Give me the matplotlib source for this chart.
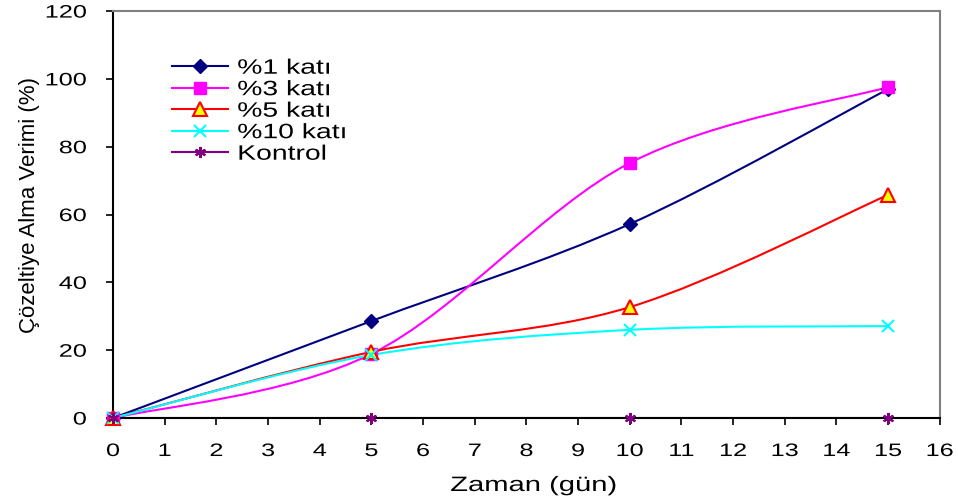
import numpy as np
import matplotlib
matplotlib.use("Agg")
import matplotlib.pyplot as plt
from matplotlib.path import Path
from matplotlib.patches import PathPatch
from matplotlib.lines import Line2D
from matplotlib import patheffects
from matplotlib.transforms import Affine2D

plt.rcParams['font.family'] = ['Liberation Sans', 'DejaVu Sans']

# sampling days and yields (%)
gun = [0, 5, 10, 15]
kat1 = [0, 28.6, 57.2, 97.0]
kat3 = [0, 18.9, 75.2, 97.6]
kat5 = [0, 19.5, 32.7, 65.8]
kat10 = [0, 18.6, 26.0, 27.1]
kontrol = [0, 0, 0, 0]

labels = ['%1 katı', '%3 katı', '%5 katı', '%10 katı', 'Kontrol']


class Widen(patheffects.AbstractPathEffect):
    """Draw text glyphs stretched horizontally about a chosen anchor."""

    def __init__(self, sx, anchor='left'):
        super().__init__()
        self.sx = sx
        self.anchor = anchor

    def draw_path(self, renderer, gc, tpath, affine, rgbFace=None):
        ext = tpath.get_extents()
        if self.anchor == 'center':
            cx = (ext.x0 + ext.x1) / 2
        elif self.anchor == 'right':
            cx = ext.x1
        else:
            cx = 0
        stretch = Affine2D().translate(-cx, 0).scale(self.sx, 1).translate(cx, 0)
        renderer.draw_path(gc, tpath, stretch + affine, rgbFace)


def smooth_path(x, y):
    # smoothed line: cubic bezier segments through the points
    pts = np.column_stack([x, y]).astype(float)
    n = len(pts)
    verts = [pts[0]]
    codes = [Path.MOVETO]
    for i in range(n - 1):
        p_prev = pts[i - 1] if i > 0 else pts[i]
        p_next2 = pts[i + 2] if i + 2 < n else pts[i + 1]
        c1 = pts[i] + (pts[i + 1] - p_prev) / 6.0
        c2 = pts[i + 1] - (p_next2 - pts[i]) / 6.0
        verts += [c1, c2, pts[i + 1]]
        codes += [Path.CURVE4] * 3
    return Path(verts, codes)


fig = plt.figure(figsize=(9.58, 5.04), dpi=100)
ax = fig.add_axes([0.118, 0.1706, 0.863, 0.8074])

series = [
    (kat1, '#000080', dict(marker='D', markersize=7.5, markerfacecolor='#000080', markeredgecolor='#000080')),
    (kat3, '#FF00FF', dict(marker='s', markersize=8, markerfacecolor='#FF00FF', markeredgecolor='#FF00FF')),
    (kat5, '#FF0000', dict(marker='^', markersize=9.5, markerfacecolor='#FFFF00', markeredgecolor='#FF0000', markeredgewidth=1.5)),
    (kat10, '#00FFFF', dict(marker='x', markersize=8, markeredgecolor='#00FFFF', markeredgewidth=1.5)),
    (kontrol, '#800080', dict(marker=(6, 2, 0), markersize=8, markeredgecolor='#800080', markeredgewidth=1.5)),
]

handles = []
for (vals, col, mk), lab in zip(series, labels):
    ax.add_patch(PathPatch(smooth_path(gun, vals), facecolor='none', edgecolor=col,
                           linewidth=1.5, zorder=2))
    ax.plot(gun, vals, linestyle='none', clip_on=False, zorder=3, **mk)
    handles.append(Line2D([], [], color=col, linewidth=1.5, **mk))

ax.set_xlim(0, 16)
ax.set_ylim(0, 120)
ax.set_xticks(range(0, 17))
ax.set_yticks(range(0, 121, 20))
ax.tick_params(direction='out', length=5, width=1.2, labelsize=13, colors='black')
ax.tick_params(axis='x', pad=13)
ax.tick_params(axis='y', pad=14)
for t in ax.get_xticklabels():
    t.set_path_effects([Widen(1.4, 'center')])
for t in ax.get_yticklabels():
    t.set_path_effects([Widen(1.4, 'right')])

for side in ['top', 'right']:
    ax.spines[side].set_color('#808080')
    ax.spines[side].set_linewidth(1.5)
for side in ['left', 'bottom']:
    ax.spines[side].set_color('black')
    ax.spines[side].set_linewidth(1.5)

xl = ax.set_xlabel('Zaman (gün)', fontsize=15)
xl.set_path_effects([Widen(1.4, 'center')])
ax.set_ylabel('Çözeltiye Alma Verimi (%)', fontsize=16)
ax.xaxis.set_label_coords(0.509, -0.1425)
ax.yaxis.set_label_coords(-0.088, 0.523)

leg = ax.legend(handles, labels, loc='upper left', bbox_to_anchor=(0.0713, 0.883),
                frameon=False, fontsize=15, handlelength=2.7, handletextpad=0.43,
                labelspacing=0.12, borderpad=0, borderaxespad=0)
for t in leg.get_texts():
    t.set_path_effects([Widen(1.36, 'left')])

fig.savefig('out.png', dpi=100)
